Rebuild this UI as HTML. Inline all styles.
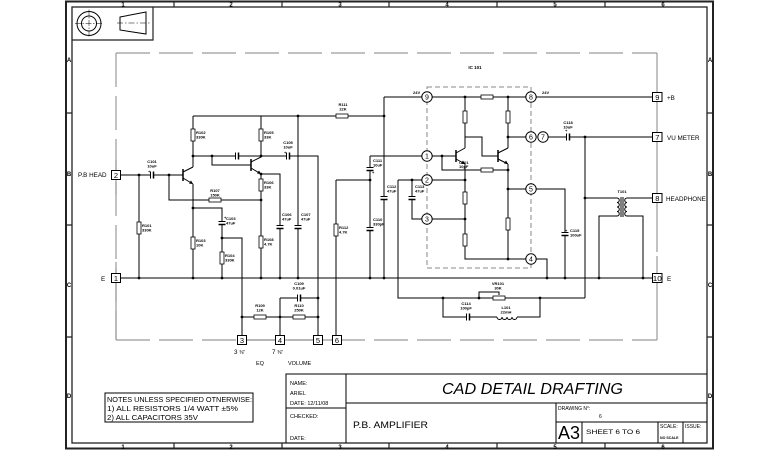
<!DOCTYPE html>
<html><head><meta charset="utf-8"><style>
html,body{margin:0;padding:0;background:#fff;}
svg{display:block;}
text{font-family:"Liberation Sans",sans-serif;fill:#000;}
.w{fill:none;stroke:#000;stroke-width:1;}
.t{fill:none;stroke:#000;stroke-width:1.5;}
.g{fill:none;stroke:#9a9a9a;stroke-width:1.2;}
.d{fill:none;stroke:#9a9a9a;stroke-width:1.2;stroke-dasharray:34 9;}
.r{fill:#fff;stroke:#000;stroke-width:0.8;}
.s{font-size:4px;font-weight:bold;}
.c{text-anchor:middle;}
.m{font-size:6px;font-weight:bold;text-anchor:middle;}
.n{font-size:7.5px;text-anchor:middle;}
</style></head><body>
<svg width="780" height="450" viewBox="0 0 780 450" xmlns="http://www.w3.org/2000/svg">
<rect width="780" height="450" fill="#fff"/>
<!-- frame -->
<rect x="66" y="1.5" width="647" height="447" fill="none" stroke="#222" stroke-width="2"/>
<rect x="72" y="7" width="635" height="436" fill="none" stroke="#222" stroke-width="1.3"/>
<path d="M174 1V7M282 1V7M389 1V7M497 1V7M605 1V7M174 443V449M282 443V449M389 443V449M497 443V449M605 443V449M66 113H72M66 225H72M66 337H72M707 113H713M707 225H713M707 337H713" stroke="#222" stroke-width="1.2" fill="none"/>
<text class="m" x="123" y="6.5">1</text><text class="m" x="231" y="6.5">2</text><text class="m" x="340" y="6.5">3</text><text class="m" x="447" y="6.5">4</text><text class="m" x="555" y="6.5">5</text><text class="m" x="663" y="6.5">6</text>
<text class="m" x="123" y="449">1</text><text class="m" x="231" y="449">2</text><text class="m" x="340" y="449">3</text><text class="m" x="447" y="449">4</text><text class="m" x="555" y="449">5</text><text class="m" x="663" y="449">6</text>
<text class="m" x="69" y="62">A</text><text class="m" x="69" y="176">B</text><text class="m" x="69" y="287">C</text><text class="m" x="69" y="398">D</text>
<text class="m" x="710" y="62">A</text><text class="m" x="710" y="176">B</text><text class="m" x="710" y="287">C</text><text class="m" x="710" y="398">D</text>
<!-- top-left symbol box -->
<path d="M72 40H153V7" stroke="#222" stroke-width="1.2" fill="none"/>
<circle cx="89" cy="23.5" r="12" fill="none" stroke="#000" stroke-width="1"/>
<circle cx="89" cy="23.5" r="7.5" fill="none" stroke="#000" stroke-width="1"/>
<path d="M75 23.5H103M89 9.5V37.5" stroke="#000" stroke-width="0.5" stroke-dasharray="6 1.5 1.5 1.5" fill="none"/>
<path d="M120 17L146 12V34L120 30Z" fill="none" stroke="#000" stroke-width="1"/>
<path d="M117 23H151" stroke="#000" stroke-width="0.6" stroke-dasharray="6 2 1.5 2" fill="none"/>
<!-- dashed boundary -->
<path class="d" d="M116 53H657"/>
<path class="d" d="M116 53V340"/>
<path class="d" d="M116 340H657"/>
<path class="g" d="M116 160V195M116 262V340M242 340H337"/>
<path class="g" d="M657 53V218M657 256V340"/>
<path class="d" d="M657 218V256"/>
<text class="s c" x="475" y="69" style="font-size:4.5px">IC 101</text>
<!-- IC dashed box -->
<rect x="427" y="87" width="104" height="181" fill="none" stroke="#888" stroke-width="1" stroke-dasharray="5 3"/>
<!-- wires -->
<path class="w" d="M120 175H183M139 175V278M169 175V200H261M193 116V167M193 184V278M193 208H222V238H242V335.5M222 238V278M193 156H261M212 156V165H251M261 116V157M261 174V278M261 174H280V278M261 156H318V335.5M298 116V278M193 116H384M384 97V278M384 97H422M432 97H526M536 97H652.5M370 156H422M370 156V278M336 180H370M336 180V335.5M398 180H422M398 180V298H585M412 180V219H422M432 219H465M432 180H465M465 97V148M465 137H482V156H498M432 156H456M442 156V170H508M465 164V259H526M508 97V148M508 164V259M508 137H526M508 189H526M536 189H565V278M536 259H547V278M548 137H652.5M585 137V298M585 198H617M627 198H652.5M617 216H599V278M627 216H643V278M120 278H652M479 298V292H499V295M443 298V317H497M517 317H540V298M242 317H318M280 298V335.5M280 298H318V317"/>
<!-- transistors -->
<path class="t" d="M183 169V181M456 150V162M498 150V162M251 159V171"/>
<path class="w" d="M183 172L193 167M183 178L193 184M456 153L465 148M456 159L465 164M498 153L508 148M498 159L508 164M251 162L261 157M251 168L261 174"/>
<path d="M193 184L189 183.5L191 180.5ZM465 164L461 163.5L463 160.5ZM508 164L504 163.5L506 160.5ZM261 174L257 173.5L259 170.5Z" fill="#000"/>
<!-- resistors vertical -->
<g class="r">
<rect x="191" y="129" width="4" height="12"/><rect x="259" y="129" width="4" height="12"/>
<rect x="259" y="179" width="4" height="12"/><rect x="259" y="236" width="4" height="12"/>
<rect x="191" y="237" width="4" height="12"/><rect x="220" y="252" width="4" height="12"/>
<rect x="137" y="222" width="4" height="12"/><rect x="334" y="224" width="4" height="12"/>
<rect x="463" y="111" width="4" height="12"/><rect x="506" y="111" width="4" height="12"/>
<rect x="463" y="192" width="4" height="12"/><rect x="463" y="234" width="4" height="12"/>
<rect x="506" y="218" width="4" height="12"/>
<!-- horizontal -->
<rect x="336" y="114" width="12" height="4"/><rect x="209" y="198" width="12" height="4"/>
<rect x="481" y="95" width="12" height="4"/><rect x="481" y="168" width="12" height="4"/>
<rect x="254" y="315" width="12" height="4"/><rect x="293" y="315" width="12" height="4"/>
<rect x="493" y="296" width="12" height="4"/>
</g>
<!-- capacitors -->
<g fill="#fff" stroke="none">
<rect x="218" y="221.5" width="8" height="3"/><rect x="276" y="225.5" width="8" height="3"/>
<rect x="294" y="225.5" width="8" height="3"/><rect x="366" y="167.5" width="8" height="3"/>
<rect x="366" y="227.5" width="8" height="3"/><rect x="380" y="196.5" width="8" height="3"/>
<rect x="408" y="196.5" width="8" height="3"/><rect x="561" y="232.5" width="8" height="3"/>
<rect x="150.5" y="171" width="3" height="8"/><rect x="235.5" y="152" width="3" height="8"/>
<rect x="286.5" y="152" width="3" height="8"/><rect x="566.5" y="133" width="3" height="8"/>
<rect x="297.5" y="294" width="3" height="8"/><rect x="466.5" y="313" width="3" height="8"/>
</g>
<path class="w" d="M218.5 221.5H225.5M276.5 225.5H283.5M294.5 225.5H301.5M366.5 167.5H373.5M366.5 227.5H373.5M380.5 196.5H387.5M408.5 196.5H415.5M561.5 232.5H568.5M150.5 171.5V178.5M235.5 152.5V159.5M286.5 152.5V159.5M566.5 133.5V140.5M297.5 294.5V301.5M466.5 313.5V320.5"/>
<path class="t" d="M218.5 224.5H225.5M276.5 228.5H283.5M294.5 228.5H301.5M366.5 170.5H373.5M366.5 230.5H373.5M380.5 199.5H387.5M408.5 199.5H415.5M561.5 235.5H568.5M153.5 171.5V178.5M238.5 152.5V159.5M289.5 152.5V159.5M569.5 133.5V140.5M300.5 294.5V301.5M469.5 313.5V320.5"/>
<!-- inductor -->
<path class="w" d="M497 317a2.5 2.5 0 0 0 5 0a2.5 2.5 0 0 0 5 0a2.5 2.5 0 0 0 5 0a2.5 2.5 0 0 0 5 0"/>
<!-- transformer -->
<path class="w" d="M617 198a2.25 2.25 0 0 1 0 4.5a2.25 2.25 0 0 1 0 4.5a2.25 2.25 0 0 1 0 4.5a2.25 2.25 0 0 1 0 4.5M627 198a2.25 2.25 0 0 0 0 4.5a2.25 2.25 0 0 0 0 4.5a2.25 2.25 0 0 0 0 4.5a2.25 2.25 0 0 0 0 4.5M621 197V217M623 197V217"/>
<!-- junction dots -->
<g fill="#000">
<circle cx="139" cy="175" r="1.4"/><circle cx="169" cy="175" r="1.4"/><circle cx="193" cy="156" r="1.4"/><circle cx="212" cy="156" r="1.4"/><circle cx="261" cy="156" r="1.4"/><circle cx="193" cy="208" r="1.4"/><circle cx="222" cy="238" r="1.4"/><circle cx="261" cy="200" r="1.4"/><circle cx="261" cy="174" r="1.4"/><circle cx="298" cy="116" r="1.4"/><circle cx="384" cy="116" r="1.4"/><circle cx="370" cy="180" r="1.4"/>
<circle cx="139" cy="278" r="1.4"/><circle cx="193" cy="278" r="1.4"/><circle cx="222" cy="278" r="1.4"/><circle cx="261" cy="278" r="1.4"/><circle cx="280" cy="278" r="1.4"/><circle cx="298" cy="278" r="1.4"/><circle cx="370" cy="278" r="1.4"/><circle cx="384" cy="278" r="1.4"/>
<circle cx="412" cy="180" r="1.4"/><circle cx="465" cy="180" r="1.4"/><circle cx="465" cy="219" r="1.4"/><circle cx="465" cy="97" r="1.4"/><circle cx="508" cy="97" r="1.4"/><circle cx="508" cy="137" r="1.4"/><circle cx="508" cy="170" r="1.4"/><circle cx="508" cy="189" r="1.4"/><circle cx="508" cy="259" r="1.4"/><circle cx="442" cy="156" r="1.4"/>
<circle cx="585" cy="137" r="1.4"/><circle cx="585" cy="198" r="1.4"/><circle cx="547" cy="278" r="1.4"/><circle cx="565" cy="278" r="1.4"/><circle cx="599" cy="278" r="1.4"/><circle cx="643" cy="278" r="1.4"/>
<circle cx="443" cy="298" r="1.4"/><circle cx="479" cy="298" r="1.4"/><circle cx="540" cy="298" r="1.4"/>
<circle cx="242" cy="317" r="1.4"/><circle cx="280" cy="317" r="1.4"/><circle cx="318" cy="317" r="1.4"/><circle cx="318" cy="298" r="1.4"/>
</g>
<!-- IC pin circles -->
<g fill="#fff" stroke="#000" stroke-width="1">
<circle cx="427" cy="97" r="5.2"/><circle cx="531" cy="97" r="5.2"/><circle cx="531" cy="137" r="5.2"/><circle cx="543" cy="137" r="5.2"/>
<circle cx="427" cy="156" r="5.2"/><circle cx="427" cy="180" r="5.2"/><circle cx="427" cy="219" r="5.2"/><circle cx="531" cy="189" r="5.2"/><circle cx="531" cy="259" r="5.2"/>
</g>
<g style="font-size:7px;text-anchor:middle">
<text x="427" y="99.5">9</text><text x="531" y="99.5">8</text><text x="531" y="139.5">6</text><text x="543" y="139.5">7</text>
<text x="427" y="158.5">1</text><text x="427" y="182.5">2</text><text x="427" y="221.5">3</text><text x="531" y="191.5">5</text><text x="531" y="261.5">4</text>
</g>
<!-- connector boxes -->
<g fill="#fff" stroke="#000" stroke-width="1">
<rect x="111.5" y="170.5" width="9" height="9"/><rect x="111.5" y="273.5" width="9" height="9"/>
<rect x="237.5" y="335.5" width="9" height="9"/><rect x="275.5" y="335.5" width="9" height="9"/><rect x="313.5" y="335.5" width="9" height="9"/><rect x="332.5" y="335.5" width="9" height="9"/>
<rect x="652.5" y="92.5" width="9.5" height="9"/><rect x="652.5" y="132.5" width="9.5" height="9"/><rect x="652.5" y="193.5" width="9.5" height="9"/><rect x="652.5" y="273.5" width="9.5" height="9"/>
</g>
<g class="n">
<text x="116" y="178">2</text><text x="116" y="281">1</text>
<text x="242" y="343">3</text><text x="280" y="343">4</text><text x="318" y="343">5</text><text x="337" y="343">6</text>
<text x="657.3" y="100">9</text><text x="657.3" y="140">7</text><text x="657.3" y="201">8</text><text x="657.3" y="281" textLength="9" lengthAdjust="spacingAndGlyphs">10</text>
</g>
<!-- pin labels -->
<g style="font-size:6.3px">
<text x="78" y="177">P.B HEAD</text><text x="101" y="281">E</text>
<text x="667" y="100">+B</text><text x="667" y="140">VU METER</text><text x="666" y="201">HEADPHONE</text><text x="667" y="281">E</text>
<text x="234" y="354">3 <tspan style="font-size:5px">⅜"</tspan></text><text x="272" y="354">7 <tspan style="font-size:5px">⅜"</tspan></text>
<text x="256" y="365" style="font-size:5.5px">EQ</text><text x="288" y="365" style="font-size:5.5px">VOLUME</text>
</g>
<!-- component labels -->
<g class="s">
<text x="413" y="94">24V</text><text x="542" y="94">24V</text>
<text x="196" y="134">R102</text><text x="196" y="138.5">330K</text>
<text x="264" y="134">R105</text><text x="264" y="138.5">33K</text>
<text x="264" y="184">R106</text><text x="264" y="188.5">33K</text>
<text x="264" y="241">R108</text><text x="264" y="245.5">4.7K</text>
<text x="196" y="242">R103</text><text x="196" y="246.5">10K</text>
<text x="225" y="257">R104</text><text x="225" y="261.5">330K</text>
<text x="142" y="227">R101</text><text x="142" y="231.5">330K</text>
<text x="339" y="229">R112</text><text x="339" y="233.5">4.7K</text>
<text x="226" y="220">C103</text><text x="226" y="224.5">47uF</text>
<text x="282" y="216">C106</text><text x="282" y="220.5">47uF</text>
<text x="301" y="216">C107</text><text x="301" y="220.5">47uF</text>
<text x="373" y="162">C111</text><text x="373" y="166.5">10uF</text>
<text x="373" y="221">C110</text><text x="373" y="225.5">330pF</text>
<text x="387" y="188">C112</text><text x="387" y="192.5">47uF</text>
<text x="415" y="188">C113</text><text x="415" y="192.5">47uF</text>
<text x="459" y="164">C201</text><text x="459" y="168">10pF</text>
<text x="570" y="232">C115</text><text x="570" y="236.5">100uF</text>
</g>
<g class="s c">
<text x="215" y="192">R107</text><text x="215" y="196.5">150K</text>
<text x="152" y="163">C101</text><text x="152" y="167.5">10uF</text>
<text x="288" y="144">C105</text><text x="288" y="148.5">10uF</text>
<text x="343" y="106">R111</text><text x="343" y="110.5">22K</text>
<text x="568" y="124">C118</text><text x="568" y="128.5">10uF</text>
<text x="622" y="193">T101</text>
<text x="498" y="285">VR101</text><text x="498" y="289.5">30K</text>
<text x="466" y="305">C114</text><text x="466" y="309.5">100pF</text>
<text x="506" y="309">L101</text><text x="506" y="313.5">22mH</text>
<text x="260" y="307">R109</text><text x="260" y="311.5">12K</text>
<text x="299" y="307">R110</text><text x="299" y="311.5">250K</text>
<text x="299" y="285">C109</text><text x="299" y="289.5">0.01uF</text>
</g>
<g style="font-size:4px;font-weight:bold">
<text x="148" y="173">+</text><text x="284" y="154">+</text><text x="565" y="132">+</text><text x="224" y="219">+</text><text x="372" y="174">+</text><text x="565" y="232">+</text>
</g>
<!-- notes -->
<rect x="105" y="393" width="148" height="29" fill="none" stroke="#000" stroke-width="1"/>
<g style="font-size:7.4px">
<text x="107" y="402" textLength="145" lengthAdjust="spacingAndGlyphs">NOTES UNLESS SPECIFIED OTNERWISE:</text>
<text x="107" y="411" textLength="131" lengthAdjust="spacingAndGlyphs">1) ALL RESISTORS 1/4 WATT ±5%</text>
<text x="107" y="420" textLength="91" lengthAdjust="spacingAndGlyphs">2) ALL CAPACITORS 35V</text>
</g>
<!-- title block -->
<path d="M286 443V374H707M346 374V443M286 408H346M346 403H707M556 403V443M556 422H707M582 422V443M658 422V443M683 422V443" fill="none" stroke="#000" stroke-width="1"/>
<g style="font-size:5.5px">
<text x="290" y="385">NAME:</text><text x="290" y="395">ARIEL</text><text x="290" y="405">DATE: 12/11/08</text>
<text x="290" y="418">CHECKED:</text><text x="290" y="440">DATE:</text>
</g>
<text x="442" y="394" style="font-size:16px;font-style:italic" textLength="181" lengthAdjust="spacingAndGlyphs">CAD DETAIL DRAFTING</text>
<text x="353" y="428" style="font-size:9.5px" textLength="75" lengthAdjust="spacingAndGlyphs">P.B.  AMPLIFIER</text>
<text x="558" y="410" style="font-size:5px">DRAWING N°:</text>
<text x="599" y="418" style="font-size:5px">6</text>
<text x="558" y="439" style="font-size:18px" textLength="22" lengthAdjust="spacingAndGlyphs">A3</text>
<text x="586" y="434" style="font-size:6px" textLength="54" lengthAdjust="spacingAndGlyphs">SHEET  6  TO  6</text>
<text x="660" y="428" style="font-size:5px">SCALE:</text>
<text x="660" y="439" style="font-size:3.6px;font-weight:bold">NO SCALE</text>
<text x="685" y="428" style="font-size:5px">ISSUE:</text>
</svg>
</body></html>
